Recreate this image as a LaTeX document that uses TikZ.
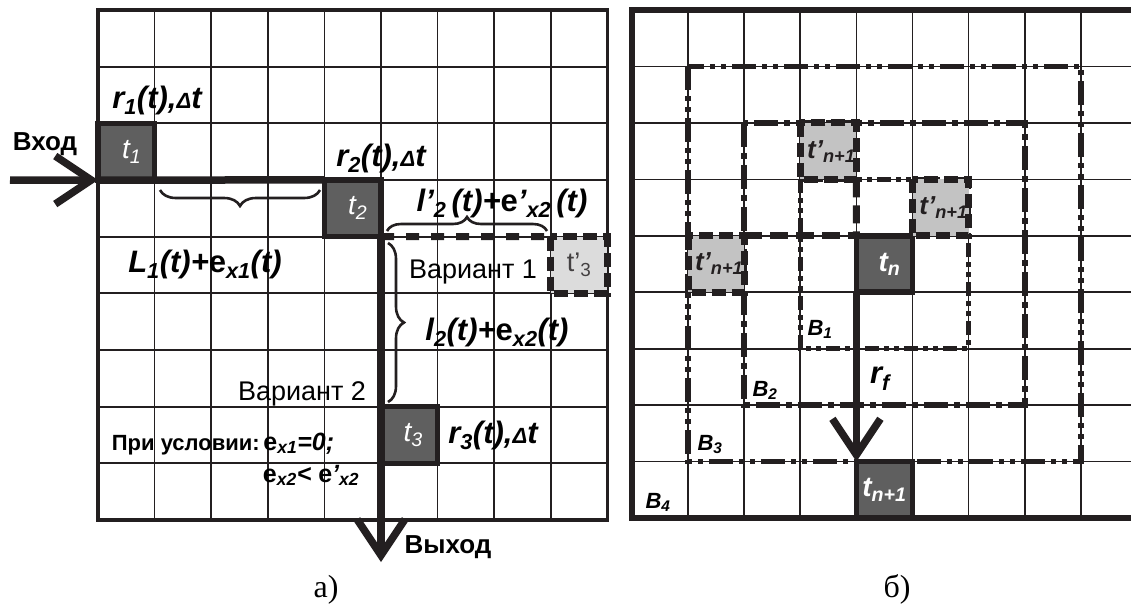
\documentclass[tikz,border=0pt]{standalone}
\usepackage{fontspec}
\setmainfont{Liberation Sans}
\newfontfamily\capserif{Liberation Serif}
\usetikzlibrary{arrows.meta,decorations.pathreplacing}
\definecolor{boxdark}{HTML}{5F5F5F}
\definecolor{boxpale}{HTML}{DCDCDC}
\definecolor{boxgrey}{HTML}{C3C3C3}
\definecolor{ink}{HTML}{231F20}
\begin{document}
\begin{tikzpicture}[x=1pt,y=-1pt,
  every node/.style={inner sep=0pt, outer sep=0pt},
  gridline/.style={line width=1.7pt, draw=ink},
  frameA/.style={line width=3.6pt, draw=ink},
  frameB/.style={line width=5.2pt, draw=ink},
  cellA/.style={minimum width=56.6pt, minimum height=56.7pt},
  cellB/.style={minimum width=56.1pt, minimum height=56.45pt},
  darkbox/.style={draw=ink, line width=5.5pt, fill=boxdark, text=white},
  route/.style={line width=7.5pt, draw=ink},
  bigarrow/.style={route, -{Straight Barb[length=36pt,width=48pt]}},
  dashroute/.style={line width=7pt, draw=ink, dash pattern=on 13pt off 12pt},
  dashframe/.style={line width=7pt, draw=ink, dash pattern=on 14pt off 6pt},
  brc/.style={decorate, decoration={brace, amplitude=16pt}, line width=2.6pt, draw=ink},
  biglbl/.style={anchor=base, font=\fontsize{31}{31}\selectfont\bfseries\itshape},
  reglbl/.style={anchor=base, font=\fontsize{27}{27}\selectfont},
  boldlbl/.style={anchor=base, font=\fontsize{26}{26}\selectfont\bfseries},
  blbl/.style={anchor=base, font=\fontsize{22}{22}\selectfont\bfseries\itshape},
  caplbl/.style={anchor=base, font=\capserif\fontsize{32}{32}\selectfont},
  tA/.style={font=\fontsize{28}{28}\selectfont\itshape},
  tB/.style={font=\fontsize{28}{28}\selectfont\bfseries\itshape},
  tP/.style={font=\fontsize{26}{26}\selectfont\bfseries\itshape, text=ink},
  ringB3/.style={line width=5.5pt, draw=ink, dash pattern=on 24pt off 6pt on 5pt off 6pt on 5pt off 6pt},
  ringB2/.style={line width=6pt, draw=ink, dash pattern=on 24pt off 6pt on 6pt off 6pt},
  ringB1/.style={line width=5pt, draw=ink, dash pattern=on 14pt off 5pt on 5pt off 5pt on 5pt off 5pt},
  seam/.style={line width=7pt, draw=ink, dash pattern=on 18pt off 8pt},
]
\useasboundingbox (0,0) rectangle (1131,603);
% ---------- left panel grid ----------
\foreach \i in {1,...,8} {
  \draw[gridline] ({98+56.6*\i},10) -- ({98+56.6*\i},520);
  \draw[gridline] (98,{10+56.6667*\i}) -- (607.4,{10+56.6667*\i});
}
\draw[frameA] (98,10) rectangle (607.4,520);
% ---------- right panel grid ----------
\foreach \i in {1,...,9} {
  \draw[gridline] ({632+56.1*\i},10) -- ({632+56.1*\i},518);
}
\foreach \i in {1,...,8} {
  \draw[gridline] (632,{10+56.45*\i}) -- (1140,{10+56.45*\i});
}
\draw[frameB] (632,10) rectangle (1137,518);
% ---------- regions B1..B3 ----------
\draw[ringB3] (688.1,66.45) rectangle (1080.8,461.6);
\draw[ringB2] (744.2,122.9) rectangle (1024.7,405.15);
\draw[ringB1] (800.3,179.35) rectangle (968.6,348.7);
% ---------- right panel cells ----------
\node[cellB, darkbox, tB] (tn) at (884.45,264.0) {\hspace*{10pt}t\textsubscript{n}};
\node[cellB, darkbox, tB] (tn1) at (884.45,489.8) {t\textsubscript{n+1}};
\node[cellB, fill=boxgrey, tP] (tpa) at (828.35,151.1) {\hspace*{6pt}t’\textsubscript{n+1}};
\node[cellB, fill=boxgrey, tP] (tpb) at (940.55,207.6) {\hspace*{6pt}t’\textsubscript{n+1}};
\node[cellB, fill=boxgrey, tP] (tpc) at (716.15,264.0) {\hspace*{6pt}t’\textsubscript{n+1}};
\foreach \b in {tpa,tpb,tpc} \draw[dashframe] (\b.north west) rectangle (\b.south east);
\draw[seam] (tpc.north east) -- (tn.north west);
\draw[seam] (tpa.south east) -- (tn.north west);
\draw[bigarrow] (tn.south west) -- (tn1.north west);
\node[biglbl] (rf) at (880,383) {r\textsubscript{f}};
\node[blbl] (lb1) at (820,335) {B\textsubscript{1}};
\node[blbl] (lb2) at (765,396) {B\textsubscript{2}};
\node[blbl] (lb3) at (710,450) {B\textsubscript{3}};
\node[blbl] (lb4) at (658,508) {B\textsubscript{4}};
% ---------- left panel cells ----------
\coordinate (inA) at (10,180);
\coordinate (outA) at (381,562);
\node[cellA, darkbox, tA] (t1) at (126.3,151.7) {\hspace*{11pt}t\textsubscript{1}};
\node[cellA, darkbox, tA] (t2) at (352.7,208.3) {\hspace*{10pt}t\textsubscript{2}};
\node[cellA, darkbox, tA] (t3) at (409.3,435) {\hspace*{8pt}t\textsubscript{3}};
\node[cellA, fill=boxpale, font=\fontsize{27}{27}\selectfont, text=ink!85] (t3p) at (579.1,265) {t’\textsubscript{3}};
\draw[dashframe] (t3p.north west) rectangle (t3p.south east);
\draw[bigarrow] (inA) -- (t1.south west);
\draw[route] (t1.south west) -- (t2.north west);
\draw[dashroute] (t2.south east) -- (t3p.north west);
\draw[bigarrow] (t2.south east) -- (outA);
% braces
\coordinate (b1s) at (160,190); \coordinate (b1e) at (320,190);
\coordinate (b2s) at (387,231); \coordinate (b2e) at (547,231);
\coordinate (b3s) at (388,243); \coordinate (b3e) at (388,402);
\draw[brc, decoration={mirror}] (b1s) -- (b1e);
\draw[brc, decoration={amplitude=14pt}] (b2s) -- (b2e);
\draw[brc] (b3s) -- (b3e);
% labels
\node[boldlbl] (vhod) at (45,150) {Вход};
\node[biglbl] (lr1) at (157,108) {r\textsubscript{1}(t),{\fontsize{22}{22}\selectfont Δ}t};
\node[biglbl] (lr2) at (381,166) {r\textsubscript{2}(t),{\fontsize{22}{22}\selectfont Δ}t};
\node[biglbl] (lr3) at (493,443) {r\textsubscript{3}(t),{\fontsize{22}{22}\selectfont Δ}t};
\node[biglbl] (lL1) at (205,272) {L\textsubscript{1}(t)+{\upshape e}\textsubscript{x1}(t)};
\node[biglbl] (ll2p) at (502,211) {l’\textsubscript{2}\,(t)+{\upshape e}’\textsubscript{x2}\,(t)};
\node[biglbl] (ll2) at (497,340) {l\textsubscript{2}(t)+{\upshape e}\textsubscript{x2}(t)};
\node[reglbl] (var1) at (473,278) {Вариант 1};
\node[reglbl] (var2) at (302,400) {Вариант 2};
\node[anchor=base, font=\fontsize{25}{25}\selectfont\bfseries\itshape] (cond1) at (223,450)
  {{\fontsize{22}{22}\selectfont\upshape При условии:\,}{\upshape e}\textsubscript{x1}=0;};
\node[anchor=base, font=\fontsize{25}{25}\selectfont\bfseries\itshape] (cond2) at (311,482)
  {{\upshape e}\textsubscript{x2}< {\upshape e}’\textsubscript{x2}};
\node[boldlbl] (vyhod) at (448,553) {Выход};
\node[caplbl] (capa) at (326,597) {а)};
\node[caplbl] (capb) at (897,597) {б)};
\end{tikzpicture}
\end{document}
